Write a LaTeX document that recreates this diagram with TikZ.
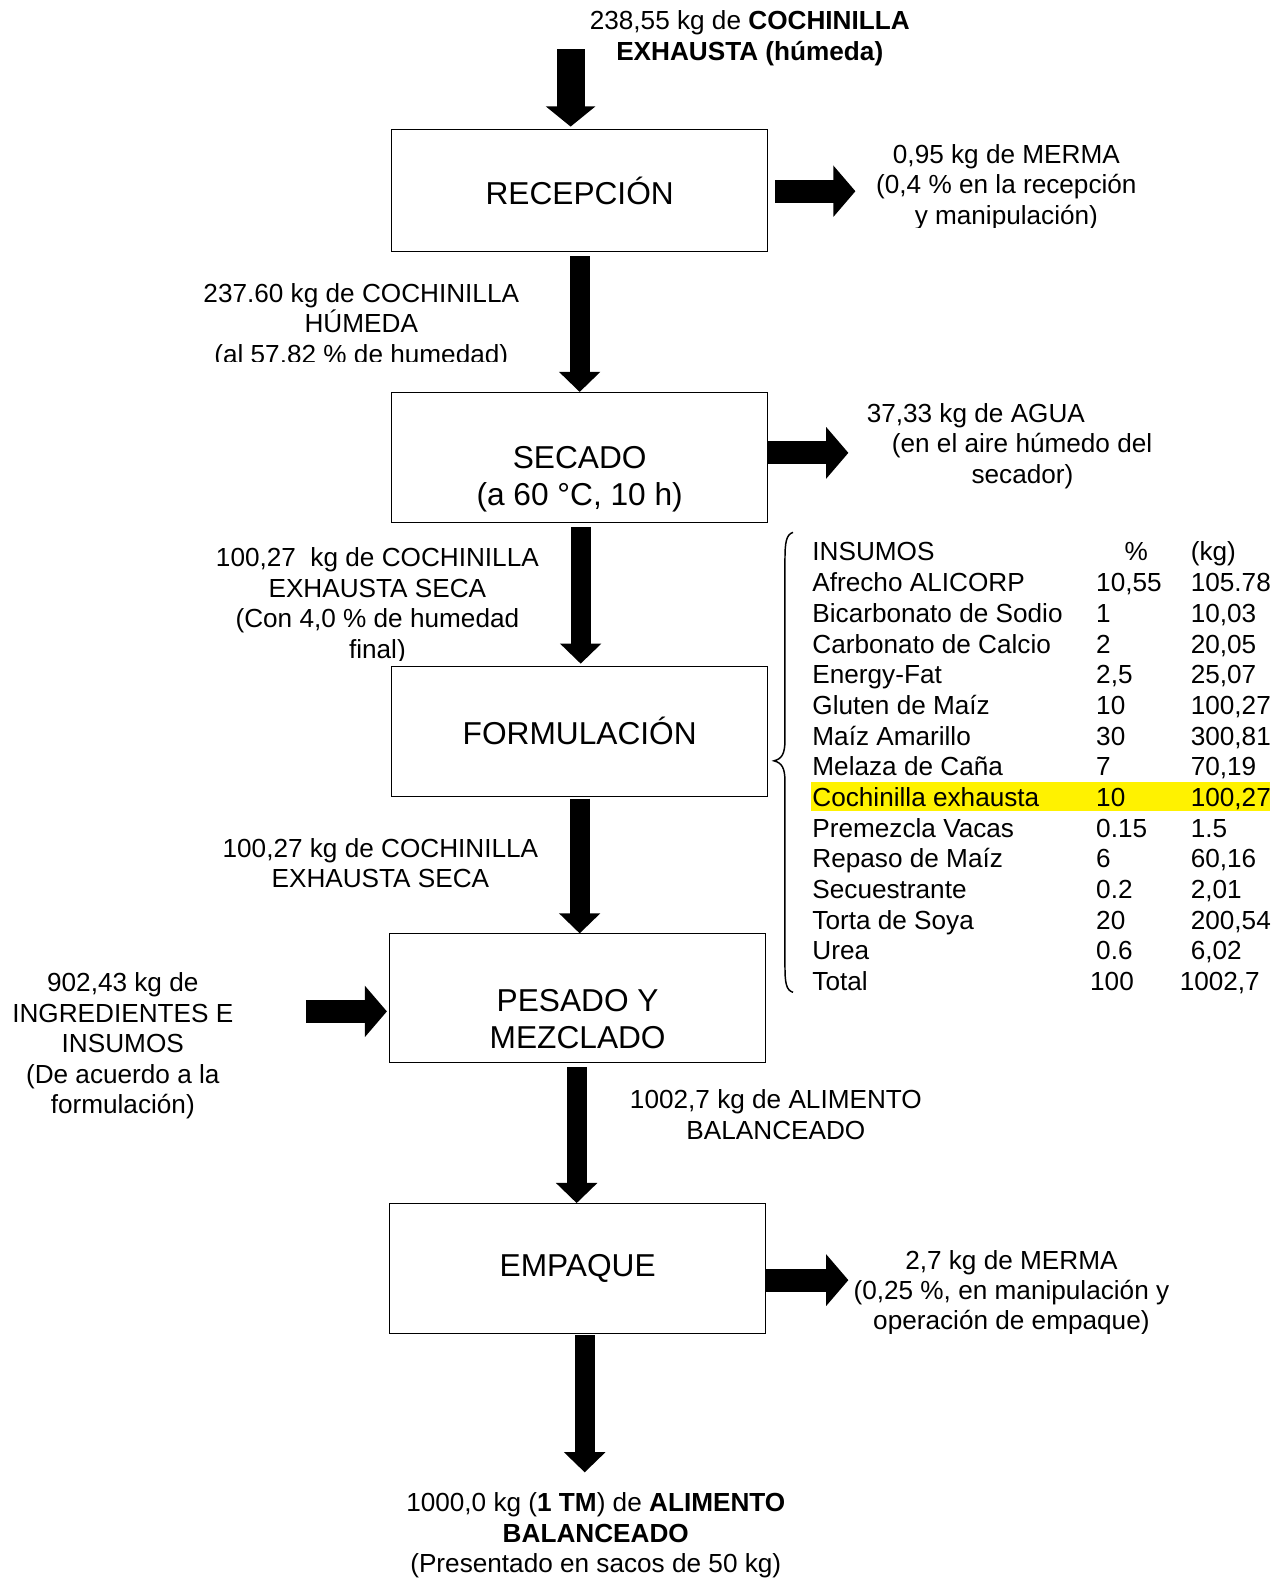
\documentclass[tikz,border=0pt]{standalone}
\usepackage{fontspec}
\setmainfont{Liberation Sans}
\usetikzlibrary{arrows.meta}
\newcommand\myboxfont{\fontsize{23.6pt}{27.75pt}\selectfont}
\newcommand\mylblfont{\fontsize{19.5pt}{22.7pt}\selectfont}
\tikzset{
  procbox/.style={draw, line width=0.8pt, minimum width=280.5pt, font=\myboxfont, align=center, inner sep=0pt},
  boxtxt/.style={font=\myboxfont, align=center, inner sep=0pt},
  lbl/.style={font=\mylblfont, align=center, inner sep=0pt},
  cell/.style={font=\mylblfont, anchor=base west, inner sep=0pt},
  downarr/.style={line width=15pt, -{Triangle[width=30pt,length=15pt]}},
  rightarr/.style={line width=17pt, -{Triangle[width=37.5pt,length=16.5pt]}},
}
\begin{document}
\begin{tikzpicture}[x=0.75pt,y=-0.75pt]
\useasboundingbox (0,0) rectangle (1278,1568);

% process boxes
\node[procbox, minimum height=90.75pt] (rec) at (576,189.5) {RECEPCIÓN};
\node[procbox, minimum height=96.75pt] (sec) at (576,454.5) {};
\node[boxtxt] (sect) at (576,476.5) {SECADO\\(a 60 °C, 10 h)};
\node[procbox, minimum height=96.75pt] (form) at (576,726.5) {FORMULACIÓN};
\node[procbox, minimum height=96pt] (pes) at (574,992) {};
\node[boxtxt] (pest) at (574,1012.5) {PESADO Y\\MEZCLADO};
\node[procbox, minimum height=96.75pt] (emp) at (574,1260.5) {EMPAQUE};

% labels
\node[lbl] (inlbl) at (745,38) {238,55 kg de \textbf{COCHINILLA}\\\textbf{EXHAUSTA (húmeda)}};
\begin{scope}
\clip (600,0) rectangle (1278,226);
\node[lbl] (merma1) at (1000,186) {0,95 kg de MERMA\\(0,4 \% en la recepción\\y manipulación)};
\end{scope}
\begin{scope}
\clip (0,260) rectangle (560,359);
\node[lbl] (hum) at (359,324) {237.60 kg de COCHINILLA\\HÚMEDA\\(al 57.82 \% de humedad)};
\end{scope}
\node[lbl, anchor=base west] (agua1) at (861,420) {37,33 kg de AGUA};
\node[lbl, anchor=base west] (agua2) at (886,450) {(en el aire húmedo del};
\node[lbl, anchor=base] (agua3) at (1016,480) {secador)};
\begin{scope}
\clip (0,530) rectangle (560,656);
\node[lbl] (secout) at (375,602) {100,27\ \ kg de COCHINILLA\\EXHAUSTA SECA\\(Con 4,0 \% de humedad\\final)};
\end{scope}
\node[lbl] (formout) at (378,857.5) {100,27 kg de COCHINILLA\\EXHAUSTA SECA};
\node[lbl] (ingr) at (122,1039.5) {902,43 kg de\\INGREDIENTES E\\INSUMOS\\(De acuerdo a la\\formulación)};
\node[lbl] (alim) at (771,1107.5) {1002,7 kg de ALIMENTO\\BALANCEADO};
\begin{scope}
\clip (600,1220) rectangle (1278,1325);
\node[lbl] (merma2) at (1005,1284.5) {2,7 kg de MERMA\\(0,25 \%, en manipulación y\\operación de empaque)};
\end{scope}
\node[lbl] (final) at (592,1525.5) {1000,0 kg (\textbf{1 TM}) de \textbf{ALIMENTO}\\\textbf{BALANCEADO}\\(Presentado en sacos de 50 kg)};

% table
\fill[yellow] (806,777) rectangle (1262,806);
\node[cell] (th1) at (807,557.4) {INSUMOS};
\node[font=\mylblfont, anchor=base, inner sep=0pt] (th2) at (1129,557.4) {\%};
\node[cell] (th3) at (1183,557.4) {(kg)};
\foreach \i/\a/\b/\c in {
  1/{Afrecho ALICORP}/{10,55}/{105.78},
  2/{Bicarbonato de Sodio}/{1}/{10,03},
  3/{Carbonato de Calcio}/{2}/{20,05},
  4/{Energy-Fat}/{2,5}/{25,07},
  5/{Gluten de Maíz}/{10}/{100,27},
  6/{Maíz Amarillo}/{30}/{300,81},
  7/{Melaza de Caña}/{7}/{70,19},
  8/{Cochinilla exhausta}/{10}/{100,27},
  9/{Premezcla Vacas}/{0.15}/{1.5},
  10/{Repaso de Maíz}/{6}/{60,16},
  11/{Secuestrante}/{0.2}/{2,01},
  12/{Torta de Soya}/{20}/{200,54},
  13/{Urea}/{0.6}/{6,02}}{
  \node[cell] (tn\i) at (807,557.4+30.5*\i) {\a};
  \node[cell] (tp\i) at (1089,557.4+30.5*\i) {\b};
  \node[cell] (tk\i) at (1183,557.4+30.5*\i) {\c};
}
\node[cell] (tn14) at (807,984.4) {Total};
\node[cell] (tp14) at (1083,984.4) {100};
\node[cell] (tk14) at (1172,984.4) {1002,7};

% brace
\draw[line width=1.1pt] (788,529) .. controls (781,531) and (780,540) .. (780,556)
  -- (780,735) .. controls (780,749) and (777,754) .. (769,756)
  .. controls (777,758) and (780,763) .. (780,777)
  -- (780,960) .. controls (780,976) and (781,984) .. (788,986);

% vertical arrows
\coordinate (topin) at (567,49);
\draw[line width=21pt, -{Triangle[width=36pt,length=15pt]}] (topin) -- ([yshift=2pt]topin |- rec.north);
\draw[downarr] ([yshift=-3pt]rec.south) -- (sec.north);
\draw[downarr] ([xshift=0.75pt,yshift=-3pt]sec.south) -- ([xshift=0.75pt,yshift=1.5pt]form.north);
\draw[downarr] ([yshift=-1.5pt]form.south) -- (form.south |- pes.north);
\draw[downarr] ([xshift=-0.75pt,yshift=-3pt]pes.south) -- ([xshift=-0.75pt]emp.north);
\coordinate (outpt) at (581,1463);
\draw[downarr] ([yshift=-1pt]outpt |- emp.south) -- (outpt);

% horizontal arrows
\coordinate (m1) at (850,190);
\draw[rightarr] ([xshift=5.25pt]rec.east |- m1) -- (m1);
\coordinate (w1) at (843,450);
\draw[rightarr] (sec.east |- w1) -- (w1);
\coordinate (i1) at (304,1005);
\draw[rightarr] (i1) -- ([xshift=-1.5pt]pes.west |- i1);
\coordinate (e1) at (843,1272);
\draw[rightarr] (emp.east |- e1) -- (e1);
\end{tikzpicture}
\end{document}
